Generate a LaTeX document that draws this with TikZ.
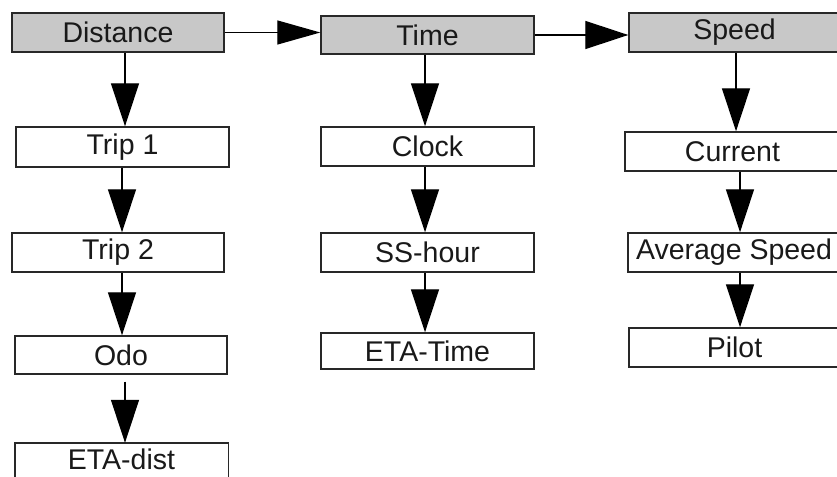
\documentclass[tikz,border=0pt]{standalone}
\usepackage{fontspec}
\setmainfont{Liberation Sans}
\usetikzlibrary{arrows.meta}
\definecolor{boxgray}{RGB}{200,200,200}
\definecolor{linecol}{RGB}{40,40,40}
\definecolor{txtcol}{RGB}{25,25,25}
\begin{document}
\begin{tikzpicture}[x=1pt,y=-1pt,
  lbl/.style={inner sep=0pt, text=txtcol, font=\fontsize{28.5}{28.5}\selectfont, anchor=center},
  box/.style={lbl, draw=linecol, line width=1.4pt, fill=white},
  head/.style={lbl, draw=linecol, line width=1.4pt, fill=boxgray},
  arr/.style={draw=black, line width=1.3pt, -{Triangle[length=43pt,width=28pt]}},
  arrs/.style={draw=black, line width=1.3pt, -{Triangle[length=43pt,width=24pt]}}
]
\useasboundingbox (0,0) rectangle (837,476);
% header row
\node[head, minimum width=212pt, minimum height=39pt] (dist) at (118,32.5) {Distance};
\node[head, minimum width=213pt, minimum height=38pt] (time) at (427.5,35) {Time};
\node[head, minimum width=211pt, minimum height=39pt] (speed) at (734.5,32.5) {Speed};
% distance column
\node[box, minimum width=213pt, minimum height=40pt] (trip1) at (122.5,147) {Trip 1};
\node[box, minimum width=212pt, minimum height=39pt] (trip2) at (118,252.5) {Trip 2};
\node[box, minimum width=212pt, minimum height=38pt] (odo) at (121,355) {Odo};
% last box runs past the lower edge of the picture
\node[lbl, minimum width=213pt, minimum height=33pt] (etad) at (121.5,459.5) {ETA-dist};
\draw[linecol, line width=1.4pt] ([yshift=-10pt]etad.south west) -- (etad.north west)
  -- (etad.north east) -- ([yshift=-10pt]etad.south east);
% time column
\node[box, minimum width=213pt, minimum height=39pt] (clock) at (427.5,146.5) {Clock};
\node[box, minimum width=213pt, minimum height=39pt] (sshour) at (427.5,252.5) {SS-hour};
\node[box, minimum width=213pt, minimum height=36pt] (etatime) at (427.5,351) {ETA-Time};
% speed column
\node[box, minimum width=215pt, minimum height=39pt] (current) at (732.5,151.5) {Current};
\node[box, minimum width=212pt, minimum height=39pt] (avg) at (734,252.5) {Average Speed};
\node[box, minimum width=211pt, minimum height=39pt] (pilot) at (734.5,347.5) {Pilot};
% horizontal connectors
\draw[arrs] (dist.east) -- (dist.east -| time.west);
\draw[arr] (time.east) -- (time.east -| speed.west);
% distance column connectors
\draw[arr] ([xshift=7pt]dist.south) -- ([xshift=7pt]dist.south |- trip1.north);
\draw[arr] ([xshift=-0.5pt]trip1.south) -- ([xshift=-0.5pt]trip1.south |- trip2.north);
\draw[arr] ([xshift=4pt]trip2.south) -- ([xshift=4pt]trip2.south |- odo.north);
\coordinate (odostart) at ([xshift=4pt,yshift=-7pt]odo.south);
\draw[arr] (odostart) -- (odostart |- etad.north);
% time column connectors
\draw[arr] ([xshift=-2.5pt]time.south) -- ([xshift=-2.5pt]time.south |- clock.north);
\draw[arr] ([xshift=-2.5pt]clock.south) -- ([xshift=-2.5pt]clock.south |- sshour.north);
\draw[arr] ([xshift=-2.5pt]sshour.south) -- ([xshift=-2.5pt]sshour.south |- etatime.north);
% speed column connectors
\draw[arr] ([xshift=1.5pt]speed.south) -- ([xshift=1.5pt]speed.south |- current.north);
\draw[arr] ([xshift=7.5pt]current.south) -- ([xshift=7.5pt]current.south |- avg.north);
\draw[arr] ([xshift=6pt]avg.south) -- ([xshift=6pt]avg.south |- pilot.north);
\end{tikzpicture}
\end{document}
